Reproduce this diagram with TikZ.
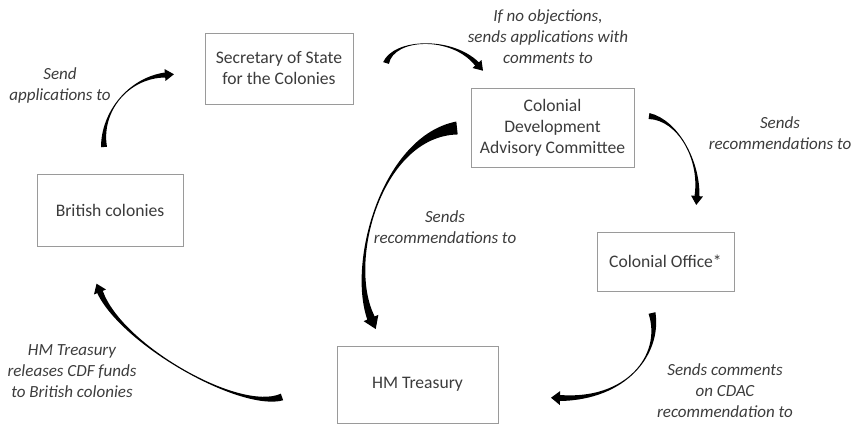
\documentclass[tikz,border=0pt]{standalone}
\usepackage{fontspec}
\setmainfont{Carlito}
\usetikzlibrary{calc}
\definecolor{txt}{HTML}{3C3C3C}
\definecolor{boxline}{HTML}{9A9A9A}
\newcommand{\taparrow}[8]{%
  \fill[black] ($(#1)!#5!90:(#2)$) .. controls (#2) and (#3) .. ($(#4)!#6!-90:(#3)$)
    -- ($(#4)!#7!-90:(#3)$) -- ($(#4)!-#8!(#3)$) -- ($(#4)!#7!90:(#3)$)
    -- ($(#4)!#6!90:(#3)$) .. controls (#3) and (#2) .. ($(#1)!#5!-90:(#2)$) -- cycle;}
\begin{document}
\begin{tikzpicture}[x=1pt,y=-1pt,
  box/.style={draw=boxline,line width=0.9pt,fill=white,text=txt,align=center,
    font=\fontsize{17.6}{21}\selectfont,inner sep=0pt},
  lab/.style={text=txt,align=center,font=\fontsize{17}{21}\selectfont\itshape,inner sep=0pt}]
\useasboundingbox (0,0) rectangle (856,425);
% boxes
\node[box,minimum width=148pt,minimum height=71pt] (sec) at (279,68.5) {Secretary of State\\for the Colonies};
\node[box,minimum width=146pt,minimum height=72pt] (bc) at (110,210) {British colonies};
\node[box,minimum width=163pt,minimum height=79pt] (cdac) at (552.5,127.5) {Colonial\\Development\\Advisory Committee};
\node[box,minimum width=137pt,minimum height=59pt] (co) at (665.5,261.5) {Colonial Office*};
\node[box,minimum width=161pt,minimum height=77pt] (hmt) at (417.5,384.5) {HM Treasury};
% labels
\node[lab] (l1) at (60,85) {Send\\applications to};
\node[lab] (l2) at (548,37) {If no objections,\\sends applications with\\comments to};
\node[lab] (l3) at (780,133) {Sends\\recommendations to};
\node[lab] (l4) at (445,227) {Sends\\recommendations to};
\node[lab] (l5) at (72,371) {HM Treasury\\releases CDF funds\\to British colonies};
\node[lab] (l6) at (725,391) {Sends comments\\on CDAC\\recommendation to};
% arrow 1: British colonies -> Secretary of State
\coordinate (a1s) at (104,147); \coordinate (a1c) at (101,112);
\coordinate (a1d) at (128,78); \coordinate (a1e) at (165,75);
\taparrow{a1s}{a1c}{a1d}{a1e}{3pt}{2.5pt}{6pt}{9pt}
% arrow 2: Secretary of State -> CDAC
\coordinate (a2s) at (386,63); \coordinate (a2c) at (394,38);
\coordinate (a2d) at (452,36); \coordinate (a2e) at (477,64);
\taparrow{a2s}{a2c}{a2d}{a2e}{3pt}{2.5pt}{6pt}{9pt}
% arrow 3: CDAC -> Colonial Office
\coordinate (a3s) at (649,116); \coordinate (a3c) at (678,120);
\coordinate (a3d) at (700,160); \coordinate (a3e) at (697,196);
\taparrow{a3s}{a3c}{a3d}{a3e}{3pt}{2.5pt}{6pt}{9pt}
% arrow 4: Colonial Office -> HM Treasury
\coordinate (a4s) at (652,313); \coordinate (a4c) at (662,355);
\coordinate (a4d) at (626,400); \coordinate (a4e) at (560,398);
\taparrow{a4s}{a4c}{a4d}{a4e}{3.5pt}{3pt}{7pt}{9pt}
% arrow 5: HM Treasury -> British colonies
\coordinate (a5s) at (282,397); \coordinate (a5c) at (240,412);
\coordinate (a5d) at (122,345); \coordinate (a5e) at (100,292);
\taparrow{a5s}{a5c}{a5d}{a5e}{3.5pt}{3pt}{6.5pt}{9pt}
% arrow 6: CDAC -> HM Treasury
\coordinate (a6s) at (457,128); \coordinate (a6c) at (382,136);
\coordinate (a6d) at (347,262); \coordinate (a6e) at (371,318);
\taparrow{a6s}{a6c}{a6d}{a6e}{6.5pt}{4pt}{8pt}{12pt}
\end{tikzpicture}
\end{document}
